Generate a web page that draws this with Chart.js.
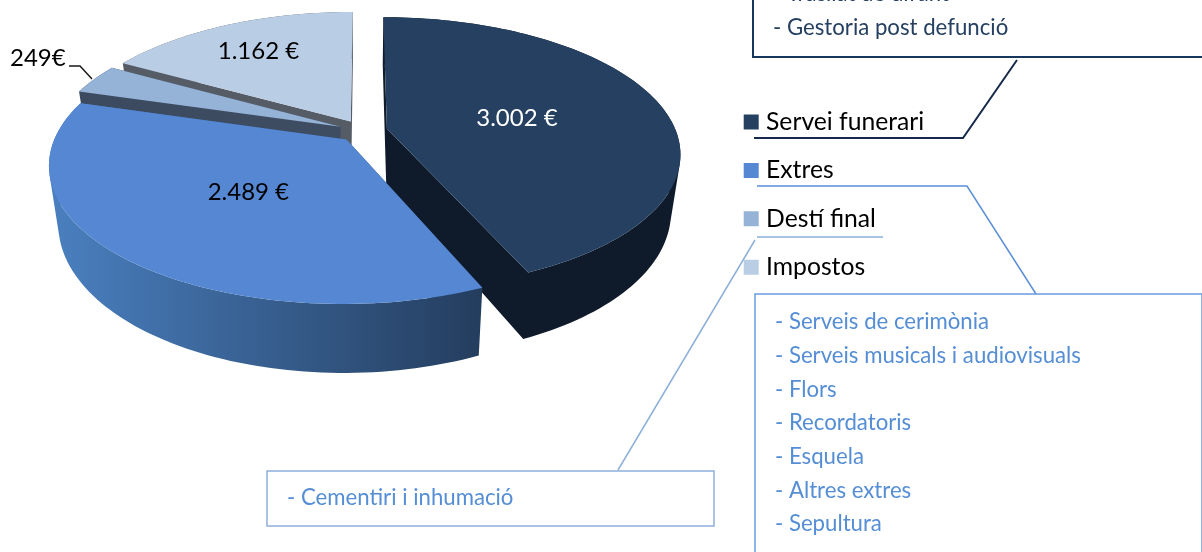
<!DOCTYPE html>
<html>
<head>
<meta charset="utf-8">
<script src="https://cdn.jsdelivr.net/npm/chart.js@4/dist/chart.umd.min.js"></script>
<style>
    html, body { margin: 0; padding: 0; background: #fff; overflow: hidden; }
</style>
</head>
<body>
<canvas id="chartCost" width="1202" height="552"></canvas>
<script>
const categories = ["Servei funerari", "Extres", "Destí final", "Impostos"];
const costValues = [3002, 2489, 249, 1162];
const valueLabels = ["3.002 €", "2.489 €", "249€", "1.162 €"];

const funeraryLines = ["- Trasllat de difunt", "- Gestoria post defunció"];
const extresLines = ["- Serveis de cerimònia", "- Serveis musicals i audiovisuals", "- Flors", "- Recordatoris", "- Esquela", "- Altres extres", "- Sepultura"];
const destiLines = ["- Cementiri i inhumació"];

const topColors = ["#254061", "#5587d3", "#95b3d7", "#b9cde5"];
const sideColors = [
    ["#0f1a2a", "#0f1a2a"],
    ["#4a80c0", "#243d5e"],
    ["#3c4a60", "#3f4d63"],
    ["#555c66", "#555c66"],
];
const labelColors = ["#ffffff", "#000000", "#000000", "#000000"];
const labelRadius = [0.47, 0.47, null, 0.72];
const drawOrder = [3, 2, 0, 1];

// tilted view of the pie: Chart.js gives the arcs, this bends them in perspective
const view = { rx: 289, ry: 132, tilt: 0.177, depth: 56, foot: 0.97 };
const FONT = "Lato, 'Open Sans', sans-serif";

function project(arc, angle, frac) {
    const mid = (arc.startAngle + arc.endAngle) / 2;
    const shift = (arc.options.offset || 0) / 4;
    const px = (shift * Math.cos(mid)) / arc.outerRadius + frac * Math.cos(angle);
    const py = (shift * Math.sin(mid)) / arc.outerRadius + frac * Math.sin(angle);
    const w = 1 - view.tilt * py;
    const x = arc.x + (view.rx * px) / w;
    const y = arc.y + (view.ry * py) / w;
    return {
        x: x,
        y: y,
        bx: arc.x + (x - arc.x) * view.foot,
        by: y + view.depth / w,
    };
}

function slicePoints(arc) {
    const pts = [project(arc, arc.startAngle, 0)];
    const steps = Math.ceil((arc.endAngle - arc.startAngle) * 40);
    for (let i = 0; i <= steps; i++) {
        const a = arc.startAngle + ((arc.endAngle - arc.startAngle) * i) / steps;
        pts.push(project(arc, a, 1));
    }
    return pts;
}

// one wall segment, always wound the same way so the whole wall fills as one shape
function addWall(ctx, p, q) {
    const corners = [[p.x, p.y], [q.x, q.y], [q.bx, q.by], [p.bx, p.by]];
    let area = 0;
    corners.forEach(function (c, n) {
        const d = corners[(n + 1) % 4];
        area += c[0] * d[1] - d[0] * c[1];
    });
    if (area < 0) corners.reverse();
    corners.forEach(function (c, n) {
        if (n === 0) ctx.moveTo(c[0], c[1]);
        else ctx.lineTo(c[0], c[1]);
    });
    ctx.closePath();
}

function polyline(ctx, color, width, pts) {
    ctx.strokeStyle = color;
    ctx.lineWidth = width;
    ctx.beginPath();
    pts.forEach(function (p, n) {
        if (n === 0) ctx.moveTo(p[0], p[1]);
        else ctx.lineTo(p[0], p[1]);
    });
    ctx.stroke();
}

function box(ctx, color, width, x, y, w, h) {
    ctx.strokeStyle = color;
    ctx.lineWidth = width;
    ctx.strokeRect(x, y, w, h);
}

const pie3d = {
    id: "pie3d",
    afterLayout(chart) {
        const legend = chart.legend;
        const w = legend.width;
        legend.left = 725;
        legend.right = 725 + w;
        legend.top = 86;
        legend.bottom = 552;
    },
    beforeDatasetsDraw(chart) {
        const ctx = chart.ctx;
        const arcs = chart.getDatasetMeta(0).data;
        drawOrder.forEach(function (i) {
            const arc = arcs[i];
            const pts = slicePoints(arc);
            let minX = Infinity, maxX = -Infinity;
            pts.forEach(function (p) {
                minX = Math.min(minX, p.x);
                maxX = Math.max(maxX, p.x);
            });
            const side = ctx.createLinearGradient(minX, 0, maxX, 0);
            side.addColorStop(0, sideColors[i][0]);
            side.addColorStop(1, sideColors[i][1]);
            ctx.fillStyle = side;
            ctx.beginPath();
            pts.forEach(function (p, n) {
                addWall(ctx, p, pts[(n + 1) % pts.length]);
            });
            ctx.fill();
            ctx.fillStyle = topColors[i];
            ctx.beginPath();
            pts.forEach(function (p, n) {
                if (n === 0) ctx.moveTo(p.x, p.y);
                else ctx.lineTo(p.x, p.y);
            });
            ctx.closePath();
            ctx.fill();
        });
        return false;
    },
    afterDraw(chart) {
        const ctx = chart.ctx;
        const arcs = chart.getDatasetMeta(0).data;
        ctx.save();
        ctx.textBaseline = "middle";
        ctx.textAlign = "center";
        ctx.font = "24px " + FONT;
        arcs.forEach(function (arc, i) {
            if (labelRadius[i] === null) return;
            const mid = (arc.startAngle + arc.endAngle) / 2;
            const p = project(arc, mid, labelRadius[i]);
            ctx.fillStyle = labelColors[i];
            ctx.fillText(valueLabels[i], p.x, p.y + 2);
        });
        ctx.textAlign = "left";
        ctx.fillStyle = "#000000";
        ctx.fillText(valueLabels[2], 10, 58);

        polyline(ctx, "#1a1a1a", 1.5, [[69, 66], [80, 66], [92, 79]]);

        // callouts
        polyline(ctx, "#17294a", 2, [[754, 138], [963, 138], [1017, 60]]);
        polyline(ctx, "#5b8fd6", 1.5, [[757, 186], [967, 186], [1036, 294]]);
        polyline(ctx, "#8db0d9", 1.5, [[757, 237], [883, 237]]);
        polyline(ctx, "#8db0d9", 1.5, [[755, 240], [618, 470]]);

        box(ctx, "#17375e", 2, 753, -10, 470, 67);
        box(ctx, "#6a9ade", 1.5, 755, 294, 447, 280);
        box(ctx, "#8fb0dc", 1.5, 267, 471, 447, 55);

        ctx.font = "22.2px " + FONT;
        ctx.fillStyle = "#254061";
        funeraryLines.forEach(function (t, i) {
            ctx.fillText(t, 773, -6 + i * 34);
        });
        ctx.fillStyle = "#558ed5";
        extresLines.forEach(function (t, i) {
            ctx.fillText(t, 775, 322 + i * 33.7);
        });
        destiLines.forEach(function (t) {
            ctx.fillText(t, 287, 498);
        });
        ctx.restore();
    },
};

new Chart(document.getElementById("chartCost").getContext("2d"), {
    type: "pie",
    data: {
        labels: categories,
        datasets: [
            {
                data: costValues,
                backgroundColor: topColors,
                borderWidth: 0,
                offset: 38,
            },
        ],
    },
    plugins: [pie3d],
    options: {
        responsive: false,
        animation: false,
        events: [],
        layout: { padding: { right: 476, bottom: 290 } },
        plugins: {
            tooltip: { enabled: false },
            legend: {
                position: "chartArea",
                align: "start",
                labels: {
                    boxWidth: 5,
                    boxHeight: 5,
                    padding: 23.7,
                    color: "#000000",
                    font: { family: FONT, size: 24.7 },
                    generateLabels(chart) {
                        return Chart.overrides.pie.plugins.legend.labels.generateLabels(chart).map(function (item) {
                            item.lineWidth = 10;
                            item.strokeStyle = item.fillStyle;
                            return item;
                        });
                    },
                },
            },
        },
    },
});
</script>
</body>
</html>
